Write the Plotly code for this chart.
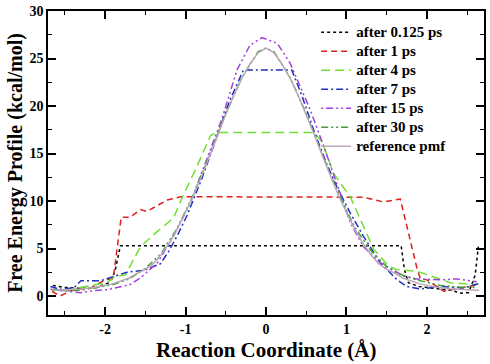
import plotly.graph_objects as go

# ---------------- data ----------------
x_0125 = [-2.65, -2.5, -2.3, -2.1, -1.95, -1.88, -1.81, 1.68, 1.72, 1.77, 1.9, 2.1, 2.3, 2.43, 2.52, 2.6, 2.64]
y_0125 = [1.1, 0.9, 0.8, 0.9, 1.4, 2.5, 5.3, 5.3, 2.8, 1.4, 1.0, 0.8, 0.6, 0.3, 0.35, 2.2, 5.2]

x_1 = [-2.66, -2.56, -2.39, -2.18, -2.0, -1.9, -1.8, -1.69, -1.56, -1.48, -1.23, -1.06,
       1.21, 1.46, 1.67, 1.88, 1.92, 2.0, 2.21, 2.45, 2.64]
y_1 = [0.5, 0.0, 0.7, 0.85, 1.7, 1.8, 8.3, 8.3, 9.1, 8.9, 10.1, 10.45,
       10.4, 9.9, 10.2, 2.8, 1.8, 1.7, 0.5, 0.85, 1.2]

x_4 = [-2.66, -2.47, -2.18, -1.98, -1.87, -1.75, -1.56, -1.35, -1.15, -1.04, -0.85, -0.69, -0.61,
       0.60, 0.70, 0.84, 1.05, 1.17, 1.34, 1.52, 1.62, 1.88, 2.04, 2.29, 2.62]
y_4 = [0.6, 0.66, 1.1, 1.4, 2.1, 2.2, 5.2, 6.8, 8.2, 10.4, 13.8, 16.9, 17.2,
       17.2, 16.2, 12.9, 10.4, 8.2, 4.9, 3.2, 2.8, 2.6, 2.1, 1.4, 1.2]

x_7 = [-2.68, -2.56, -2.39, -2.3, -2.06, -1.9, -1.73, -1.52, -1.31, -1.21, -1.1, -0.98, -0.8, -0.6,
       -0.45, -0.28, 0.32, 0.45, 0.6, 0.75, 0.88, 1.05, 1.21, 1.42, 1.63, 1.75, 1.92, 2.17, 2.45, 2.64]
y_7 = [1.0, 0.7, 0.85, 1.6, 1.6, 2.0, 2.5, 2.7, 3.4, 4.7, 6.4, 8.5, 12.3, 17.0,
       20.6, 23.8, 23.8, 21.0, 17.3, 14.0, 11.5, 8.7, 6.3, 3.5, 1.7, 1.0, 0.74, 1.0, 0.84, 1.3]

x_15 = [-2.68, -2.5, -2.31, -2.15, -1.98, -1.69, -1.56, -1.35, -1.15, -0.94, -0.75, -0.55, -0.36, -0.2,
        -0.05, 0.14, 0.3, 0.38, 0.55, 0.72, 0.88, 1.05, 1.21, 1.42, 1.71, 1.87, 2.17, 2.37, 2.62]
y_15 = [0.7, 0.5, 0.35, 0.55, 0.66, 1.2, 1.9, 3.5, 6.3, 9.8, 14.0, 18.6, 23.8, 26.4,
        27.2, 26.6, 24.5, 22.9, 19.6, 15.7, 11.8, 7.7, 5.2, 3.5, 2.1, 1.8, 1.7, 1.8, 1.5]

x_30 = [-2.65, -2.5, -2.3, -2.1, -1.9, -1.7, -1.5, -1.3, -1.1, -0.9, -0.7, -0.5, -0.3, -0.1, 0.0,
        0.1, 0.3, 0.5, 0.7, 0.9, 1.1, 1.3, 1.5, 1.63, 1.87, 2.17, 2.4, 2.62]
y_30 = [0.7, 0.55, 0.6, 0.9, 1.2, 1.8, 2.9, 4.5, 7.2, 10.7, 14.9, 19.2, 23.0, 25.7, 26.1,
        25.7, 23.0, 19.2, 14.9, 10.8, 7.3, 4.8, 3.1, 2.4, 1.7, 1.1, 0.95, 0.9]

x_ref = [-2.65, -2.5, -2.3, -2.1, -1.9, -1.7, -1.6, -1.5, -1.4, -1.3, -1.2, -1.1, -1.0, -0.9, -0.8,
         -0.7, -0.6, -0.5, -0.4, -0.3, -0.2, -0.1, 0.0, 0.1, 0.2, 0.3, 0.4, 0.5, 0.6, 0.7, 0.8,
         0.9, 1.0, 1.1, 1.2, 1.3, 1.4, 1.5, 1.6, 1.7, 1.9, 2.1, 2.3, 2.5, 2.65]
y_ref = [0.6, 0.65, 0.75, 0.95, 1.3, 1.9, 2.4, 2.8, 3.4, 4.4, 5.6, 7.1, 8.8, 10.6, 12.6,
         14.8, 17.0, 19.1, 21.1, 22.9, 24.4, 25.6, 26.1, 25.6, 24.4, 22.9, 21.1, 19.1, 17.0, 14.8, 12.6,
         10.6, 8.8, 7.1, 5.6, 4.4, 3.4, 2.8, 2.4, 1.9, 1.3, 0.95, 0.75, 0.65, 0.6]

labels = ["after 0.125 ps", "after 1 ps", "after 4 ps", "after 7 ps",
          "after 15 ps", "after 30 ps", "reference pmf"]

x_tickvals = [-2, -1, 0, 1, 2]
x_ticktext = ["-2", "-1", "0", "1", "2"]
y_tickvals = [0, 5, 10, 15, 20, 25, 30]
y_ticktext = ["0", "5", "10", "15", "20", "25", "30"]

x_title = "Reaction Coordinate (Å)"
y_title = "Free Energy Profile (kcal/mol)"

x_range = [-2.71, 2.71]
y_range = [-2, 30]

# ---------------- figure ----------------
series = [
    (x_0125, y_0125, "#000000", "dot"),
    (x_1, y_1, "#dd2020", "6px,4px"),
    (x_4, y_4, "#70e030", "9px,5px"),
    (x_7, y_7, "#2030c0", "7px,3px,2px,3px"),
    (x_15, y_15, "#a040e0", "2px,3px,7px,3px,2px,3px"),
    (x_30, y_30, "#40a030", "7px,3px,2px,3px,2px,3px"),
    (x_ref, y_ref, "#b8a8b8", "solid"),
]

fig = go.Figure()
for (xs, ys, col, dash), name in zip(series, labels):
    fig.add_trace(go.Scatter(x=xs, y=ys, mode="lines",
                             name="<span style='font-size:15px'><b>" + name + "</b></span>",
                             line=dict(color=col, width=1.5, dash=dash)))

font_family = "Liberation Serif"

fig.update_layout(
    width=490, height=364,
    margin=dict(l=48, r=6, t=11, b=49, autoexpand=False),
    paper_bgcolor="white", plot_bgcolor="white",
    font=dict(family=font_family, color="black"),
    showlegend=True,
    legend=dict(x=0.615, y=0.978, xanchor="left", yanchor="top",
                bgcolor="rgba(0,0,0,0)", borderwidth=0,
                font=dict(family=font_family, size=12, color="black"),
                itemwidth=30, tracegroupgap=0),
    annotations=[
        dict(text="<b>" + x_title + "</b>", xref="paper", yref="paper",
             x=0.5, y=-0.116, xanchor="center", yanchor="middle", showarrow=False,
             font=dict(family=font_family, size=21, color="black")),
        dict(text="<b>" + y_title + "</b>", xref="paper", yref="paper",
             x=-0.076, y=0.5, xanchor="center", yanchor="middle", textangle=-90,
             showarrow=False, font=dict(family=font_family, size=20, color="black")),
    ],
)

axis_common = dict(
    showline=True, linecolor="black", linewidth=1.5, mirror="allticks",
    ticks="inside", ticklen=8, tickwidth=1.5, tickcolor="black",
    showgrid=False, zeroline=False, automargin=False,
    tickfont=dict(family=font_family, size=14, color="black"),
)

fig.update_layout(
    xaxis=dict(range=x_range, tickmode="array", tickvals=x_tickvals,
               ticktext=["<b>" + t + "</b>" for t in x_ticktext], **axis_common),
    yaxis=dict(range=y_range, tickmode="array", tickvals=y_tickvals,
               ticktext=["<b>" + t + "</b>" for t in y_ticktext], **axis_common),
    # overlay axes used only for the short minor ticks
    xaxis2=dict(range=x_range, overlaying="x", anchor="y", side="bottom",
                tickmode="linear", tick0=0.5, dtick=1, ticks="inside", ticklen=4,
                tickwidth=1.2, tickcolor="black", mirror="allticks", showline=False,
                showticklabels=False, showgrid=False, zeroline=False, automargin=False),
    yaxis2=dict(range=y_range, overlaying="y", anchor="x", side="left",
                tickmode="linear", tick0=2.5, dtick=5, ticks="inside", ticklen=4,
                tickwidth=1.2, tickcolor="black", mirror="allticks", showline=False,
                showticklabels=False, showgrid=False, zeroline=False, automargin=False),
)
# invisible trace so the overlay axes are drawn
fig.add_trace(go.Scatter(x=x_range, y=y_range, xaxis="x2", yaxis="y2", mode="lines",
                         line=dict(width=0), opacity=0, showlegend=False, hoverinfo="skip"))

fig.write_html("out.html", config={"displayModeBar": False},
               post_script="document.body.style.margin='0';")
